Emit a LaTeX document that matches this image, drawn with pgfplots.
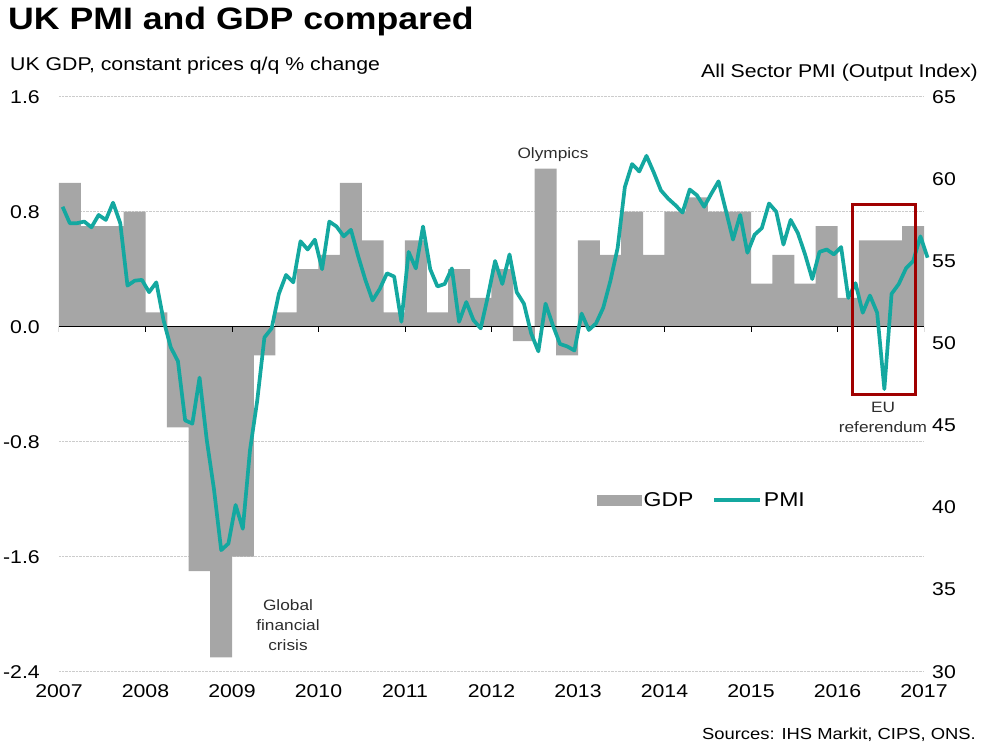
\documentclass[border=0pt]{standalone}
\usepackage{pgfplots}
\pgfplotsset{compat=1.18}
\usepackage{pgfplotstable}
\usepackage{fontspec}
\setmainfont{Liberation Sans}[FakeStretch=1.15]
\definecolor{gdpgrey}{RGB}{166,166,166}
\definecolor{pmiteal}{RGB}{20,168,160}
\definecolor{boxred}{RGB}{160,0,0}
\definecolor{anngrey}{RGB}{45,45,45}
\newcommand{\ticksize}{\fontsize{18.5}{22}\selectfont}
\newcommand{\annsize}{\fontsize{15}{20}\selectfont}

\pgfplotstableread{
q gdp
0 1.0
1 0.7
2 0.7
3 0.8
4 0.1
5 -0.7
6 -1.7
7 -2.3
8 -1.6
9 -0.2
10 0.1
11 0.4
12 0.5
13 1.0
14 0.6
15 0.1
16 0.6
17 0.1
18 0.4
19 0.2
20 0.4
21 -0.1
22 1.1
23 -0.2
24 0.6
25 0.5
26 0.8
27 0.5
28 0.8
29 0.9
30 0.8
31 0.8
32 0.3
33 0.5
34 0.3
35 0.7
36 0.2
37 0.6
38 0.6
39 0.7
}\gdpdata

\pgfplotstableread{
m pmi
0 58.3
1 57.3
2 57.3
3 57.4
4 57.05
5 57.8
6 57.5
7 58.55
8 57.3
9 53.5
10 53.8
11 53.85
12 53.1
13 53.7
14 51.4
15 49.75
16 48.9
17 45.3
18 45.1
19 47.9
20 44.1
21 41.1
22 37.4
23 37.8
24 40.15
25 38.7
26 43.5
27 46.5
28 50.35
29 50.9
30 53.0
31 54.15
32 53.7
33 56.2
34 55.7
35 56.3
36 54.5
37 57.4
38 57.1
39 56.5
40 56.9
41 55.3
42 53.85
43 52.6
44 53.3
45 54.25
46 54.05
47 51.3
48 55.55
49 54.55
50 57.1
51 54.5
52 53.45
53 53.6
54 54.55
55 51.3
56 52.5
57 51.4
58 50.9
59 52.85
60 55.0
61 53.6
62 55.4
63 53.1
64 52.4
65 50.6
66 49.5
67 52.4
68 51.1
69 49.95
70 49.8
71 49.55
72 51.8
73 50.8
74 51.2
75 52.15
76 53.8
77 55.8
78 59.5
79 60.9
80 60.45
81 61.4
82 60.4
83 59.3
84 58.8
85 58.4
86 57.95
87 59.35
88 59.0
89 58.3
90 59.1
91 59.85
92 58.1
93 56.3
94 57.8
95 55.5
96 56.6
97 57.0
98 58.5
99 58.0
100 56.0
101 57.5
102 56.7
103 55.4
104 53.9
105 55.55
106 55.7
107 55.4
108 55.85
109 52.75
110 53.65
111 51.85
112 52.9
113 51.85
114 47.2
115 53.0
116 53.6
117 54.55
118 55.0
119 56.5
120 55.2
}\pmidata

\begin{document}
\begin{tikzpicture}[x=1pt,y=1pt]
\path[use as bounding box] (0,0) rectangle (983,745);

\begin{axis}[
  at={(59pt,73.3pt)}, anchor=south west, scale only axis,
  width=865pt, height=575pt,
  xmin=-0.5, xmax=39.5, ymin=-2.4, ymax=1.6,
  axis line style={draw=none},
  xtick={-0.5,3.5,...,39.5},
  xticklabels={2007,2008,2009,2010,2011,2012,2013,2014,2015,2016,2017},
  ytick={-2.4,-1.6,-0.8,0,0.8,1.6},
  yticklabels={-2.4,-1.6,-0.8,0.0,0.8,1.6},
  major tick length=0pt,
  tick style={draw=none},
  ymajorgrids,
  major grid style={densely dotted, black!20, line width=1.2pt},
  tick label style={font=\ticksize, inner sep=0pt},
  yticklabel style={anchor=east, xshift=-19pt},
  xticklabel style={anchor=north, yshift=-13pt},
]
\addplot[ybar, bar width=1.02, bar shift=0pt, fill=gdpgrey, draw=none] table[x=q,y=gdp]{\gdpdata};
\draw[black, line width=1.2pt] (axis cs:-0.5,0) -- (axis cs:39.5,0);
\pgfplotsinvokeforeach{-0.5,3.5,...,39.5}{
  \draw[black, line width=1pt] (axis cs:#1,0) -- ++(0pt,-5pt);
}
\end{axis}

\begin{axis}[
  at={(59pt,73.3pt)}, anchor=south west, scale only axis,
  width=865pt, height=575pt,
  xmin=-0.5, xmax=119.5, ymin=30, ymax=65,
  hide x axis,
  axis y line*=right,
  axis line style={draw=none},
  ytick={30,35,...,65},
  yticklabels={30,35,40,45,50,55,60,65},
  major tick length=0pt,
  tick style={draw=none},
  tick label style={font=\ticksize, inner sep=0pt},
  yticklabel style={anchor=west, xshift=8pt},
  clip=false,
  legend style={draw=none, fill=none, inner sep=0pt,
    at={(0.622,0.2986)}, anchor=west,
    font=\fontsize{20}{24}\selectfont,
    /tikz/every even column/.append style={column sep=17pt}},
  legend columns=2,
  legend cell align=left,
]
\addlegendimage{legend image code/.code={\fill[gdpgrey] (0pt,-5pt) rectangle (44pt,5pt);}}
\addlegendentry{GDP}
\addplot[pmiteal, line width=3.7pt, line join=round,
  legend image code/.code={\draw[pmiteal,line width=3.5pt] (0pt,0pt) -- (46pt,0pt);}]
  table[x=m,y=pmi]{\pmidata};
\addlegendentry{PMI}
\end{axis}

\node[anchor=base west, inner sep=0pt, font=\fontsize{31}{36}\selectfont\bfseries] at (8,715) {UK PMI and GDP compared};
\node[anchor=base west, inner sep=0pt, font=\ticksize] at (10,674) {UK GDP, constant prices q/q \% change};
\node[anchor=base east, inner sep=0pt, font=\ticksize] at (978,667) {All Sector PMI (Output Index)};
\node[anchor=base east, inner sep=0pt, font=\fontsize{16}{19}\selectfont] at (976,6) {Sources: IHS Markit, CIPS, ONS.};

\node[font=\annsize, text=anngrey] at (553,590) {Olympics};
\node[font=\annsize, text=anngrey, align=center] at (288,120) {Global\\financial\\crisis};
\node[font=\annsize, text=anngrey, align=center] at (883,328) {EU\\referendum};
\draw[boxred, line width=3pt] (852,540) rectangle (915,350);
\end{tikzpicture}
\end{document}
